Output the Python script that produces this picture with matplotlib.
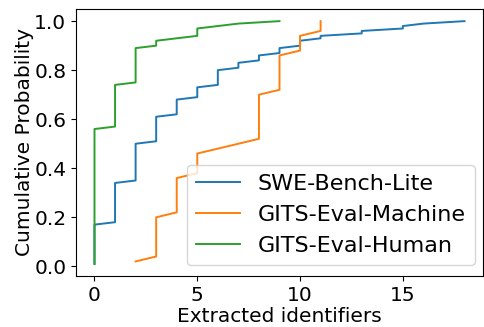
import numpy as np
import matplotlib
matplotlib.use("Agg")
import matplotlib.pyplot as plt

# Distinct values of "extracted identifiers" and how many samples take each value
swe_values = [0, 1, 2, 3, 4, 5, 6, 7, 8, 9, 10, 11, 13, 15, 16, 18]
swe_counts = [17, 17, 16, 11, 7, 5, 7, 3, 3, 3, 3, 2, 2, 2, 1, 1]

machine_values = [2, 3, 4, 5, 6, 7, 8, 9, 10, 11]
machine_counts = [1, 9, 8, 5, 1, 1, 10, 8, 4, 3]

human_values = [0, 1, 2, 3, 4, 5, 6, 7, 9]
human_counts = [56, 18, 15, 3, 1, 4, 1, 1, 1]

series_labels = ["SWE-Bench-Lite", "GITS-Eval-Machine", "GITS-Eval-Human"]
x_label = "Extracted identifiers"
y_label = "Cumulative Probability"

FS = 14.5
plt.rcParams['font.family'] = ['DejaVu Sans']
fig = plt.figure(figsize=(4.85, 3.27), dpi=100)
ax = fig.add_axes([76/485, 1 - 276/327, (483-76)/485, (276-9)/327])

for vals, cnts, lab in [(swe_values, swe_counts, series_labels[0]),
                        (machine_values, machine_counts, series_labels[1]),
                        (human_values, human_counts, series_labels[2])]:
    data = np.sort(np.repeat(vals, cnts))
    y = np.arange(1, len(data) + 1) / len(data)
    ax.plot(data, y, label=lab, linewidth=1.4)

ax.set_xlabel(x_label, fontsize=FS, labelpad=2)
ax.set_ylabel(y_label, fontsize=FS, labelpad=0)
ax.tick_params(labelsize=FS)
ax.set_xticks([0, 5, 10, 15])
ax.set_yticks([0.0, 0.2, 0.4, 0.6, 0.8, 1.0])
ax.legend(loc='lower right', fontsize=16, borderaxespad=0,
          bbox_to_anchor=(0.980, 0.041))

fig.savefig("out.png", dpi=100)
